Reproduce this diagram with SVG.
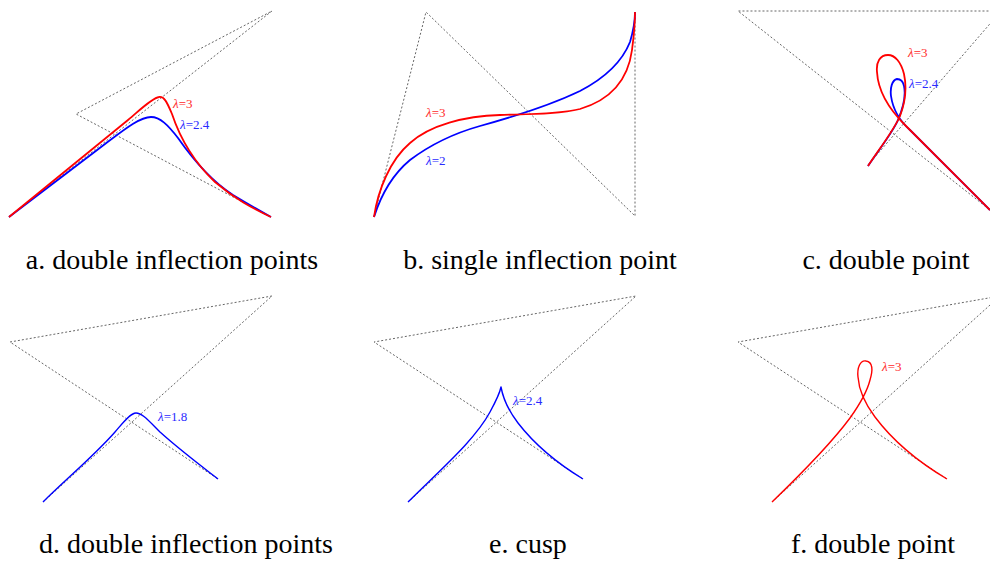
<svg xmlns="http://www.w3.org/2000/svg" width="990" height="563" viewBox="0 0 990 563">
<style>
.poly{fill:none;stroke:#666;stroke-width:1;stroke-dasharray:2 2}
.r{fill:none;stroke:#ff0000;stroke-width:1.8;stroke-linejoin:round}
.b{fill:none;stroke:#0000ff;stroke-width:1.8;stroke-linejoin:round}
.r2{fill:none;stroke:#ff0000;stroke-width:1.4;stroke-linejoin:round}
.b2{fill:none;stroke:#0000ff;stroke-width:1.4;stroke-linejoin:round}
.cap{font-size:28px;fill:#000;text-anchor:middle}
.lab{font-size:13px}
.lr{fill:#ff2a2a}
.lb{fill:#2a2aff}
.it{font-style:italic}
</style>
<rect width="990" height="563" fill="#fff"/>

<g font-family="'Liberation Serif', 'DejaVu Serif', serif">
<g id="panel-a">
<polyline class="poly" points="9,217 272,11 76,114 271,217"/>
<path class="b" d="M9,217 L105,144 C125,129 140,117 151,117 C160,117 168,125 178,138 C192,158 210,180 233,195 C248,204 260,211 271,217"/>
<path class="r" d="M9,217 L128,120 C140,110 152,98 159,97 C164,96 167,102 172,114 C180,138 195,163 215,182 C235,199 252,208 271,217"/>
<text class="lab lr" x="173" y="108"><tspan class="it">λ</tspan>=3</text>
<text class="lab lb" x="180" y="129"><tspan class="it">λ</tspan>=2.4</text>
<text class="cap" x="172" y="269">a. double inflection points</text>
</g>

<g id="panel-b">
<polyline class="poly" points="374,217 426,12 635,216 635,12"/>
<path class="b" d="M374,217 C381,195 392,175 410,160 C430,145 455,133 480,126 C520,115 555,103 580,91 C605,78 622,62 630,42 C633,32 635,22 635,12"/>
<path class="r" d="M374,217 C378,190 390,160 410,143 C430,125 465,116 500,115 C530,114 560,114 580,109 C610,100 628,80 632,50 C634,35 635,22 635,12"/>
<text class="lab lr" x="426" y="117"><tspan class="it">λ</tspan>=3</text>
<text class="lab lb" x="426" y="165"><tspan class="it">λ</tspan>=2</text>
<text class="cap" x="540" y="269">b. single inflection point</text>
</g>

<g id="panel-c">
<polyline class="poly" points="868,165 1001,11 738,11 990,210"/>
<path class="b" d="M868,166 C880,148 893,132 898,120 C903,108 906,95 904,86 C903,81 900,79 897,79 C892,80 890,88 891,96 C893,110 901,122 910,130 C930,150 960,180 990,210"/>
<path class="r" d="M868,166 C880,148 894,130 900,116 C905,103 907,88 904,74 C901,62 895,55 888,55 C880,55 876,62 877,72 C878,90 888,108 905,125 C925,145 960,180 990,210"/>
<text class="lab lr" x="908" y="57"><tspan class="it">λ</tspan>=3</text>
<text class="lab lb" x="909" y="88"><tspan class="it">λ</tspan>=2.4</text>
<text class="cap" x="886" y="269">c. double point</text>
</g>

<g id="panel-d">
<polyline class="poly" points="43,502 272,296 10,342 218,479"/>
<path class="b2" d="M43,502 C65,480 95,455 115,432 C122,424 130,413 136,413 C142,413 148,420 160,432 C180,450 200,465 218,479"/>
<text class="lab lb" x="158" y="421"><tspan class="it">λ</tspan>=1.8</text>
<text class="cap" x="186" y="553">d. double inflection points</text>
</g>

<g id="panel-e">
<polyline class="poly" points="408,502 636,296 374,342 583,479"/>
<path class="b2" d="M408,502 C440,470 475,440 490,412 C496,401 500,392 501,387 C503,398 508,410 518,423 C535,445 560,465 583,479"/>
<text class="lab lb" x="513" y="405"><tspan class="it">λ</tspan>=2.4</text>
<text class="cap" x="528" y="553">e. cusp</text>
</g>

<g id="panel-f">
<polyline class="poly" points="772,502 1000,296 738,342 947,479"/>
<path class="r2" d="M772,502 C800,475 830,445 850,418 C860,404 867,392 870,380 C873,370 873,362 866,361 C860,360 857,368 858,377 C859,392 866,405 875,417 C890,437 915,460 947,479"/>
<text class="lab lr" x="882" y="371"><tspan class="it">λ</tspan>=3</text>
<text class="cap" x="873" y="553">f. double point</text>
</g>
</g>
</svg>
